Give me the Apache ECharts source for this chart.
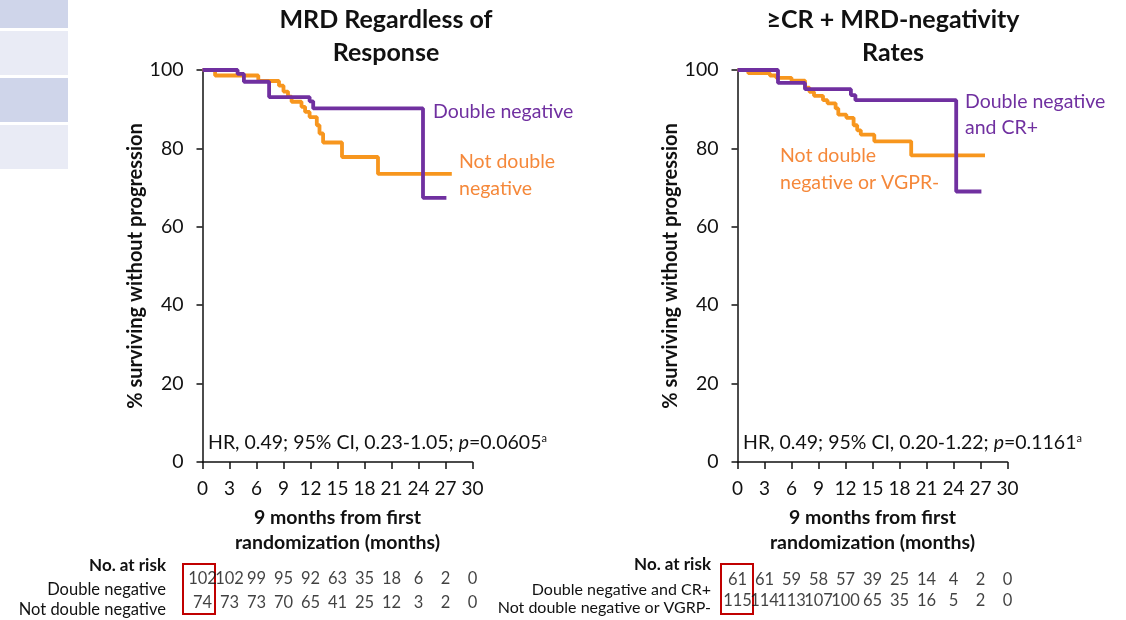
<!DOCTYPE html>
<html>
<head>
<meta charset="utf-8">
<script src="https://cdn.jsdelivr.net/npm/echarts@6/dist/echarts.min.js"></script>
<style>
  html, body { margin: 0; padding: 0; background: #fff; }
  #chart { width: 1126px; height: 620px; }
</style>
</head>
<body>
<div id="chart"></div>
<script>
// Kaplan-Meier curves: [month, % surviving without progression]
const leftDoubleNeg = [[0,100],[3.9,99.0],[4.6,97.0],[7.4,93.1],[11.9,92.0],[12.3,90.2],[24.5,67.4],[27.1,67.4]];
const leftNotDoubleNeg = [[0,100],[1.4,98.6],[6.2,97.2],[8.5,96.0],[9.0,94.5],[9.5,93.2],[9.9,91.9],[11.0,90.6],[11.4,89.3],[11.9,88.0],[12.7,85.9],[13.0,83.8],[13.4,81.5],[15.5,77.8],[19.5,73.5],[27.7,73.5]];
const rightDoubleNegCR = [[0,100],[4.5,96.7],[7.5,95.1],[12.6,93.6],[13.1,92.3],[24.3,69.0],[27.1,69.0]];
const rightNotDoubleNegVGPR = [[0,100],[1.2,99.2],[3.6,98.6],[4.3,98.0],[6.0,97.3],[7.5,95.5],[8.0,94.4],[8.5,93.4],[9.5,92.3],[10.0,91.5],[10.9,90.2],[11.2,88.6],[12.1,87.8],[12.9,85.9],[13.3,84.6],[13.7,83.5],[15.2,81.8],[19.3,78.2],[27.5,78.2]];

// Numbers at risk, every 3 months from 0 to 30
const riskMonths = [0,3,6,9,12,15,18,21,24,27,30];
const leftRiskDoubleNeg = [102,102,99,95,92,63,35,18,6,2,0];
const leftRiskNotDoubleNeg = [74,73,73,70,65,41,25,12,3,2,0];
const rightRiskDoubleNegCR = [61,61,59,58,57,39,25,14,4,2,0];
const rightRiskNotDoubleNegVGPR = [115,114,113,107,100,65,35,16,5,2,0];

const yTicks = [0,20,40,60,80,100];

const PURPLE = '#7030A0';
const ORANGE = '#F7961E';
const ORANGE_TEXT = '#F5883A';
const FONT = 'Lato, "Open Sans", sans-serif';
const INK = '#111';

const chart = echarts.init(document.getElementById('chart'));

function kmXAxis(gridIndex) {
  return {
    gridIndex, type: 'value', min: 0, max: 30, interval: 3,
    axisLine: { onZero: false, lineStyle: { color: INK, width: 1.5 } },
    axisTick: { show: true, length: 7, lineStyle: { color: INK, width: 1.5 } },
    axisLabel: { color: INK, fontSize: 19, fontFamily: FONT, margin: 17 },
    splitLine: { show: false },
    name: '9 months from first\nrandomization (months)',
    nameLocation: 'middle', nameGap: 43,
    nameTextStyle: { color: INK, fontSize: 19.5, fontWeight: 'bold', fontFamily: FONT, lineHeight: 25 }
  };
}
function kmYAxis(gridIndex) {
  return {
    gridIndex, type: 'value', min: 0, max: 100, interval: 20,
    axisLine: { show: true, lineStyle: { color: INK, width: 1.5 } },
    axisTick: { show: true, length: 6, lineStyle: { color: INK, width: 1.5 } },
    axisLabel: { color: INK, fontSize: 19.5, fontFamily: FONT, margin: 19,
      formatter: v => yTicks.includes(v) ? String(v) : '' },
    splitLine: { show: false },
    name: '% surviving without progression',
    nameLocation: 'middle', nameGap: 57,
    nameTextStyle: { color: INK, fontSize: 20, fontWeight: 'bold', fontFamily: FONT }
  };
}
function riskXAxis(gridIndex) {
  return { gridIndex, type: 'value', min: 0, max: 30, show: false };
}
function riskYAxis(gridIndex) {
  return { gridIndex, type: 'category', data: ['r1','r2'], inverse: true, show: false };
}
function kmSeries(data, color, xi, withFifty) {
  const s = {
    type: 'line', step: 'end', data, xAxisIndex: xi, yAxisIndex: xi,
    symbol: 'none', lineStyle: { color, width: 3.8 }, silent: true, z: 3
  };
  if (withFifty) {
    s.markLine = {
      silent: true, symbol: 'none', label: { show: false },
      lineStyle: { color: INK, type: [2, 2], width: 1.2 },
      data: [[{ coord: [0, 50] }, { coord: [30.3, 50] }]]
    };
  }
  return s;
}
function riskSeries(rows, idx) {
  const data = [];
  rows.forEach((row, r) => row.forEach((n, i) => data.push([riskMonths[i], r, n])));
  return {
    type: 'scatter', xAxisIndex: idx, yAxisIndex: idx, data, symbolSize: 1,
    itemStyle: { color: 'transparent' }, silent: true,
    label: { show: true, position: 'inside', color: INK, fontSize: 16.5, fontFamily: FONT,
      formatter: p => String(p.value[2]) }
  };
}
function txt(text, x, y, opts) {
  return {
    type: 'text', x, y, silent: true,
    style: Object.assign({ text, fill: INK, fontSize: 18, fontFamily: FONT,
      textAlign: 'left', textVerticalAlign: 'middle' }, opts || {})
  };
}
const hrRich = {
  i: { fontStyle: 'italic', fontSize: 19.5, fontFamily: FONT, fill: INK },
  s: { fontSize: 11, fontFamily: FONT, fill: INK, verticalAlign: 'top', padding: [0, 0, 9, 0] }
};

chart.setOption({
  backgroundColor: '#fff',
  animation: false,
  title: [
    { text: 'MRD Regardless of\nResponse', left: 381, top: -2, textAlign: 'center',
      textStyle: { fontSize: 25, fontWeight: 'bold', fontFamily: FONT, color: INK, lineHeight: 33 } },
    { text: '\u2265CR + MRD-negativity\nRates', left: 888, top: -2, textAlign: 'center',
      textStyle: { fontSize: 25, fontWeight: 'bold', fontFamily: FONT, color: INK, lineHeight: 33 } }
  ],
  grid: [
    { left: 202.5, top: 70, width: 270, height: 392 },
    { left: 737.5, top: 70, width: 270, height: 392 },
    { left: 202.5, top: 567, width: 270, height: 48 },
    { left: 737.5, top: 569.5, width: 270, height: 42 }
  ],
  xAxis: [kmXAxis(0), kmXAxis(1), riskXAxis(2), riskXAxis(3)],
  yAxis: [kmYAxis(0), kmYAxis(1), riskYAxis(2), riskYAxis(3)],
  series: [
    kmSeries(leftNotDoubleNeg, ORANGE, 0, true),
    kmSeries(leftDoubleNeg, PURPLE, 0, false),
    kmSeries(rightNotDoubleNegVGPR, ORANGE, 1, true),
    kmSeries(rightDoubleNegCR, PURPLE, 1, false),
    riskSeries([leftRiskDoubleNeg, leftRiskNotDoubleNeg], 2),
    riskSeries([rightRiskDoubleNegCR, rightRiskNotDoubleNegVGPR], 3)
  ],
  graphic: [
    // side tabs
    { type: 'rect', shape: { x: 0, y: 0, width: 68, height: 28 }, style: { fill: '#CFD5EA' }, silent: true },
    { type: 'rect', shape: { x: 0, y: 31, width: 68, height: 44 }, style: { fill: '#E9EBF5' }, silent: true },
    { type: 'rect', shape: { x: 0, y: 78, width: 68, height: 44 }, style: { fill: '#CFD5EA' }, silent: true },
    { type: 'rect', shape: { x: 0, y: 125, width: 68, height: 44 }, style: { fill: '#E9EBF5' }, silent: true },

    // curve labels
    txt('Double negative', 433, 112, { fill: PURPLE, fontSize: 19.5 }),
    txt('Not double\nnegative', 459, 175, { fill: ORANGE_TEXT, fontSize: 19.5, lineHeight: 27 }),
    txt('Double negative\nand CR+', 965, 115, { fill: PURPLE, fontSize: 19.5, lineHeight: 26 }),
    txt('Not double\nnegative or VGPR-', 780, 169.5, { fill: ORANGE_TEXT, fontSize: 19.5, lineHeight: 27 }),

    // hazard ratios
    txt('HR, 0.49; 95% CI, 0.23-1.05; {i|p}=0.0605{s|a}', 208, 443, { fontSize: 19.5, rich: hrRich }),
    txt('HR, 0.49; 95% CI, 0.20-1.22; {i|p}=0.1161{s|a}', 743, 443, { fontSize: 19.5, rich: hrRich }),

    // at-risk table captions
    txt('No. at risk', 166, 566, { textAlign: 'right', fontWeight: 'bold', fontSize: 17 }),
    txt('Double negative', 166, 590, { textAlign: 'right', fontSize: 16.5 }),
    txt('Not double negative', 166, 610, { textAlign: 'right', fontSize: 16.5 }),
    txt('No. at risk', 711, 565, { textAlign: 'right', fontWeight: 'bold', fontSize: 17 }),
    txt('Double negative and CR+', 711, 590, { textAlign: 'right', fontSize: 16 }),
    txt('Not double negative or VGRP-', 711, 608, { textAlign: 'right', fontSize: 16 }),

    // baseline columns highlighted
    { type: 'rect', shape: { x: 183, y: 564, width: 32, height: 50 }, silent: true,
      style: { fill: 'none', stroke: '#C00000', lineWidth: 2 } },
    { type: 'rect', shape: { x: 721, y: 564, width: 32, height: 50 }, silent: true,
      style: { fill: 'none', stroke: '#C00000', lineWidth: 2 } }
  ]
});
</script>
</body>
</html>
